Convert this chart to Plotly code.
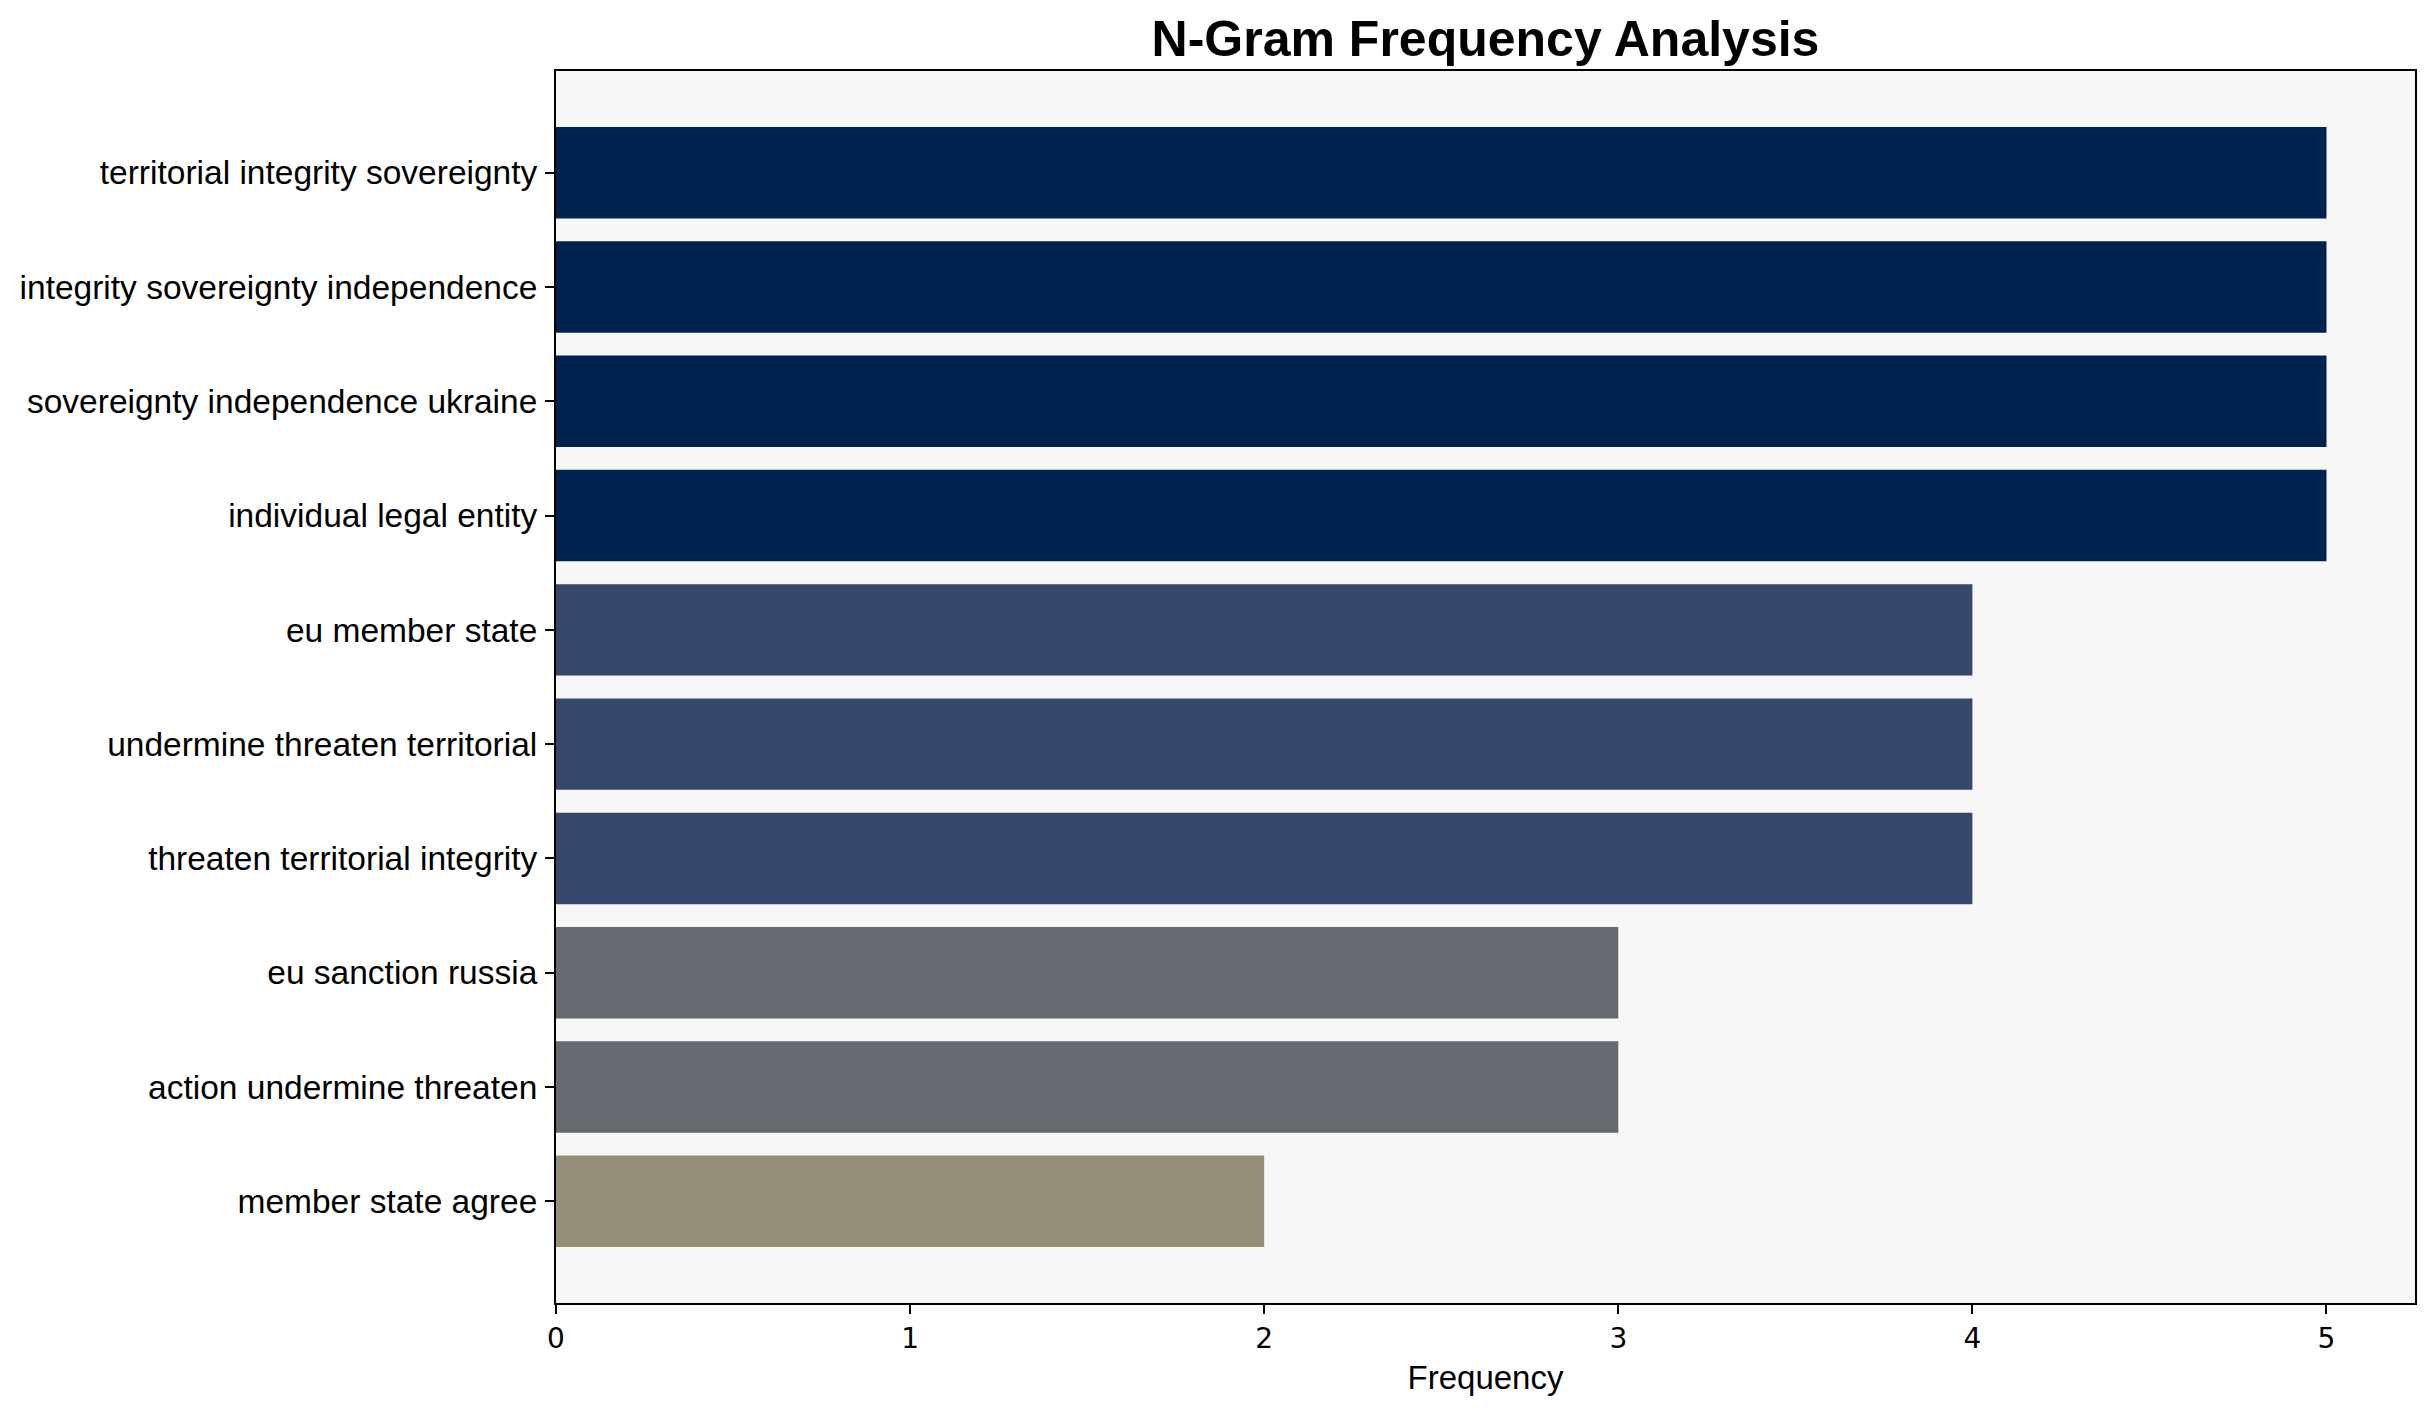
import plotly.graph_objects as go

ngrams = [
    "territorial integrity sovereignty",
    "integrity sovereignty independence",
    "sovereignty independence ukraine",
    "individual legal entity",
    "eu member state",
    "undermine threaten territorial",
    "threaten territorial integrity",
    "eu sanction russia",
    "action undermine threaten",
    "member state agree",
]
frequency = [5, 5, 5, 5, 4, 4, 4, 3, 3, 2]
x_ticks = [0, 1, 2, 3, 4, 5]

color_by_value = {5: "#00224E", 4: "#37466B", 3: "#676970", 2: "#948E76"}
bar_colors = [color_by_value[v] for v in frequency]

W, H = 2435, 1414
OFF = 8  # page offset of the plot div
L, R, T, B = 554, 2415, 71, 1303

fig = go.Figure(
    go.Bar(
        x=frequency,
        y=ngrams,
        orientation="h",
        marker=dict(color=bar_colors, line=dict(width=0)),
        showlegend=False,
    )
)

fig.update_layout(
    width=W,
    height=H,
    margin=dict(l=L - OFF, r=W + OFF - R, t=T - OFF, b=H + OFF - B, pad=0),
    paper_bgcolor="white",
    plot_bgcolor="#F7F7F7",
    bargap=0.2,
    title=dict(
        text="<b>N-Gram Frequency Analysis</b>",
        x=0.5,
        xanchor="center",
        xref="paper",
        y=1 - (38 - OFF) / H,
        yanchor="middle",
        yref="container",
        font=dict(family="Liberation Sans, Arial", size=50, color="black"),
    ),
)

fig.update_xaxes(
    range=[0, 5.25],
    tickvals=x_ticks,
    ticktext=[str(t) for t in x_ticks],
    showgrid=False,
    zeroline=False,
    showline=True,
    linecolor="black",
    linewidth=2,
    mirror=True,
    ticks="outside",
    ticklen=9,
    tickwidth=2,
    tickcolor="black",
    tickfont=dict(family="DejaVu Sans", size=28, color="black"),
    title=dict(
        text="Frequency",
        font=dict(family="Liberation Sans, Arial", size=33, color="black"),
        standoff=12,
    ),
)
fig.update_yaxes(
    type="category",
    categoryorder="array",
    categoryarray=ngrams,
    range=[len(ngrams) - 1 + 0.89, -0.89],
    showgrid=False,
    zeroline=False,
    showline=True,
    linecolor="black",
    linewidth=2,
    mirror=True,
    ticks="outside",
    ticklen=9,
    tickwidth=2,
    tickcolor="black",
    tickfont=dict(family="Liberation Sans, Arial", size=33.5, color="black"),
    ticklabelstandoff=1,
)

fig.write_html("out.html")
